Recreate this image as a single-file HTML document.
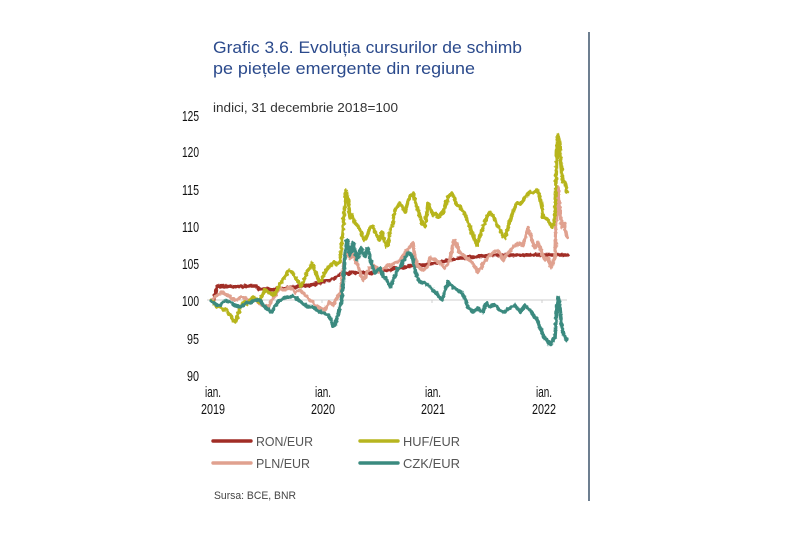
<!DOCTYPE html>
<html>
<head>
<meta charset="utf-8">
<style>
html,body{margin:0;padding:0;background:#fff;}
svg{display:block;}
text{font-family:"Liberation Sans",sans-serif;}
</style>
</head>
<body>
<svg width="788" height="547" viewBox="0 0 788 547" xmlns="http://www.w3.org/2000/svg">
<defs>
<filter id="jit" x="-5%" y="-5%" width="110%" height="110%">
<feTurbulence type="fractalNoise" baseFrequency="0.35" numOctaves="1" seed="3" result="n"/>
<feDisplacementMap in="SourceGraphic" in2="n" scale="3.5" xChannelSelector="R" yChannelSelector="G"/>
</filter>
</defs>
<rect x="0" y="0" width="788" height="547" fill="#fff"/>
<!-- title -->
<text x="213" y="53" font-size="17" fill="#2b4a8c" textLength="309" lengthAdjust="spacingAndGlyphs">Grafic 3.6. Evoluția  cursurilor de schimb</text>
<text x="213" y="74" font-size="17" fill="#2b4a8c" textLength="262" lengthAdjust="spacingAndGlyphs">pe piețele emergente din regiune</text>
<text x="213" y="112" font-size="13" fill="#333" textLength="185" lengthAdjust="spacingAndGlyphs">indici, 31 decembrie 2018=100</text>
<!-- right vertical rule -->
<line x1="589" y1="32" x2="589" y2="501" stroke="#1f3a55" stroke-width="1.3"/>
<!-- y labels -->
<g font-size="14.5" fill="#111" text-anchor="end">
<text x="199" y="121" textLength="17" lengthAdjust="spacingAndGlyphs">125</text>
<text x="199" y="157" textLength="17" lengthAdjust="spacingAndGlyphs">120</text>
<text x="199" y="195" textLength="17" lengthAdjust="spacingAndGlyphs">115</text>
<text x="199" y="232" textLength="17" lengthAdjust="spacingAndGlyphs">110</text>
<text x="199" y="269" textLength="17" lengthAdjust="spacingAndGlyphs">105</text>
<text x="199" y="306" textLength="17" lengthAdjust="spacingAndGlyphs">100</text>
<text x="199" y="344" textLength="12" lengthAdjust="spacingAndGlyphs">95</text>
<text x="199" y="381" textLength="12" lengthAdjust="spacingAndGlyphs">90</text>
</g>
<!-- x labels -->
<g font-size="14.5" fill="#111" text-anchor="middle">
<text x="213" y="397" textLength="16" lengthAdjust="spacingAndGlyphs">ian.</text>
<text x="213" y="414" textLength="24" lengthAdjust="spacingAndGlyphs">2019</text>
<text x="323" y="397" textLength="16" lengthAdjust="spacingAndGlyphs">ian.</text>
<text x="323" y="414" textLength="24" lengthAdjust="spacingAndGlyphs">2020</text>
<text x="433" y="397" textLength="16" lengthAdjust="spacingAndGlyphs">ian.</text>
<text x="433" y="414" textLength="24" lengthAdjust="spacingAndGlyphs">2021</text>
<text x="544" y="397" textLength="16" lengthAdjust="spacingAndGlyphs">ian.</text>
<text x="544" y="414" textLength="24" lengthAdjust="spacingAndGlyphs">2022</text>
</g>
<!-- gridline 100 -->
<line x1="207" y1="300" x2="567" y2="300" stroke="#cfcfcf" stroke-width="1"/>
<g stroke="#cfcfcf" stroke-width="1">
<line x1="322" y1="300" x2="322" y2="303"/>
<line x1="432" y1="300" x2="432" y2="303"/>
<line x1="542" y1="300" x2="542" y2="303"/>
</g>
<g fill="none" stroke-width="3.6" stroke-linejoin="round" stroke-linecap="round" filter="url(#jit)">
<!-- RON -->
<polyline stroke="#a12d26" points="211,300 214,299 216,290 217,286 220,287 223,286 226,287 230,286 234,287 238,286 242,287 246,286 250,286 254,286 257,286 259,289 263,289 268,289 272,290 276,289 280,288 285,288 290,287 295,287 300,286 305,286 310,285 315,284 320,283 325,281 330,280 335,278 338,276 340,274 344,273 348,274 352,272 356,273 360,272 365,273 370,273 375,272 380,271 385,270 390,270 395,268 400,268 405,267 410,266 415,266 420,265 425,265 430,264 435,263 440,262 445,261 450,260 455,259 460,258 465,258 470,257 475,257 480,256 485,256 490,255 500,255 510,255 520,255 530,255 540,255 550,255 560,255 567,255"/>
<!-- PLN -->
<polyline stroke="#e0a18f" points="211,300 214,298 217,296 220,293 222,292 225,294 228,295 231,298 235,300 238,299 241,297 245,298 248,300 252,299 255,300 258,302 262,305 265,306 268,307 271,302 273,298 275,296 278,291 280,288 283,290 285,290 288,288 290,287 293,290 295,292 298,291 300,290 303,293 305,295 308,298 310,300 313,302 315,305 318,307 320,308 323,309 325,310 327,306 329,302 331,303 333,305 335,301 337,298 339,295 341,292 342,280 344,262 346,252 348,255 350,258 353,254 356,262 359,268 361,276 363,280 365,278 367,272 370,268 373,265 376,268 379,272 382,270 385,268 388,265 391,266 394,263 397,262 400,260 403,256 405,253 408,249 410,247 413,243 415,258 418,266 420,268 423,270 426,268 428,266 430,258 433,259 435,260 438,262 440,263 443,266 445,268 448,264 450,260 452,250 453,243 455,240 457,246 460,253 463,255 465,257 468,259 470,260 473,264 475,267 478,272 481,268 483,263 486,260 488,257 491,255 493,253 496,251 498,250 501,255 503,260 506,256 508,253 511,250 513,247 516,245 518,243 521,244 523,245 526,236 528,228 530,234 532,240 535,248 538,243 540,247 542,253 545,260 548,258 551,267 553,263 555,257 556,225 557,207 558,187 559,200 560,213 562,227 564,223 566,233 567,237"/>
<!-- HUF -->
<polyline stroke="#b7b51f" points="211,300 214,303 217,307 220,306 223,310 226,309 228,312 231,316 233,320 235,322 237,318 239,310 241,306 244,302 247,304 250,300 253,297 256,299 259,302 262,296 265,290 268,292 271,294 274,295 277,290 280,284 283,280 286,275 289,270 292,272 295,277 298,282 301,286 304,280 307,272 310,268 312,263 314,268 316,274 319,281 322,280 325,272 328,268 331,265 334,262 337,264 340,262 342,240 344,215 346,190 348,198 350,218 352,215 355,223 358,226 361,232 364,240 367,236 370,228 373,226 376,234 379,240 382,232 384,240 386,247 388,244 390,232 393,222 395,210 398,206 400,203 403,208 405,212 408,202 410,197 413,193 415,200 417,207 420,216 422,223 425,227 427,212 428,203 431,210 433,215 436,214 438,217 441,214 443,213 446,204 448,197 450,195 452,193 455,200 457,205 460,207 462,210 465,214 467,220 470,227 472,233 475,240 477,245 479,238 482,230 485,222 487,217 490,212 493,216 495,220 498,226 500,230 503,236 505,238 508,228 510,220 513,212 517,203 520,204 523,200 526,196 530,192 533,193 537,190 540,197 542,208 543,217 546,219 548,220 550,224 552,227 554,222 555,213 556,180 557,150 558,135 559,140 560,150 561,165 562,177 563,182 565,182 566,186 567,192"/>
<!-- CZK -->
<polyline stroke="#3a8a7f" points="211,301 214,303 217,305 220,305 223,302 226,301 230,302 233,304 236,306 240,307 243,305 246,303 250,303 253,301 256,300 260,300 263,305 266,308 269,310 272,312 275,306 278,302 281,300 284,298 287,297 290,297 293,296 296,298 299,300 302,303 305,305 308,307 311,307 314,308 317,310 320,312 323,313 326,314 329,316 331,320 333,326 335,325 337,318 339,310 341,303 343,287 344,270 345,255 347,240 349,248 350,255 352,250 353,243 355,250 357,260 359,255 361,248 363,253 365,257 367,248 369,252 371,262 373,268 375,273 378,270 380,268 383,276 386,278 388,283 390,287 393,280 395,277 398,268 400,267 403,262 405,258 408,253 410,253 412,256 413,260 415,270 417,277 420,282 423,283 425,283 428,285 430,287 433,290 435,292 438,295 440,298 442,300 444,295 445,290 447,285 448,282 450,284 453,287 456,289 458,290 461,292 463,295 466,301 468,307 471,310 473,312 476,310 478,308 481,311 483,312 485,306 487,303 489,306 490,307 493,305 495,305 498,308 500,310 503,312 505,312 508,309 510,308 513,306 515,305 518,309 520,312 523,308 525,305 528,308 530,310 533,314 535,317 538,322 540,327 542,332 543,337 545,338 547,340 549,343 550,345 552,342 553,340 555,338 556,320 557,307 558,297 559,300 560,307 561,320 562,330 564,335 566,338 567,340"/>
</g>
<!-- legend -->
<g stroke-width="3.4" stroke-linecap="round">
<line x1="213" y1="441" x2="251" y2="441" stroke="#a12d26"/>
<line x1="360" y1="441" x2="398" y2="441" stroke="#b7b51f"/>
<line x1="213" y1="463" x2="251" y2="463" stroke="#e0a18f"/>
<line x1="360" y1="463" x2="398" y2="463" stroke="#3a8a7f"/>
</g>
<g font-size="13" fill="#555">
<text x="256" y="446" textLength="57" lengthAdjust="spacingAndGlyphs">RON/EUR</text>
<text x="403" y="446" textLength="57" lengthAdjust="spacingAndGlyphs">HUF/EUR</text>
<text x="256" y="468" textLength="54" lengthAdjust="spacingAndGlyphs">PLN/EUR</text>
<text x="403" y="468" textLength="57" lengthAdjust="spacingAndGlyphs">CZK/EUR</text>
</g>
<text x="214" y="499" font-size="11" fill="#444" textLength="82" lengthAdjust="spacingAndGlyphs">Sursa: BCE, BNR</text>
</svg>
</body>
</html>
